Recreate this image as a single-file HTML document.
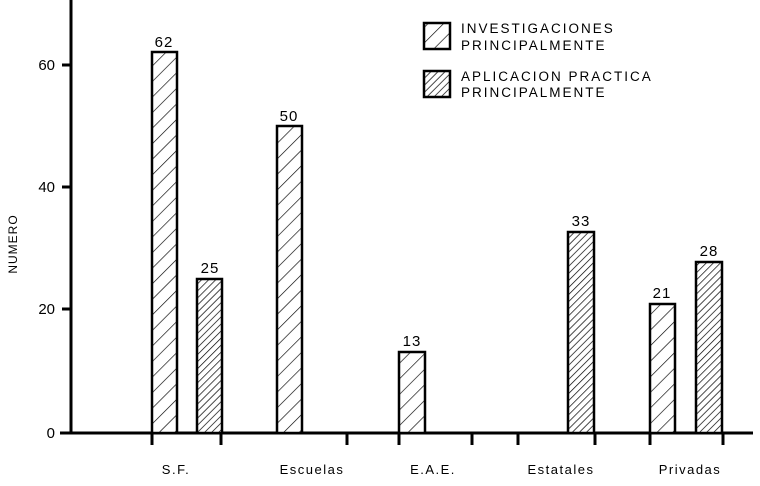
<!DOCTYPE html><html><head><style>body{margin:0;background:#fff}</style></head><body>
<svg width="760" height="481" xmlns="http://www.w3.org/2000/svg" font-family="Liberation Sans, sans-serif">
<defs>
<pattern id="l" width="11" height="11" patternUnits="userSpaceOnUse" patternTransform="rotate(45)"><rect width="11" height="11" fill="#fff"/><line x1="0" y1="0" x2="0" y2="11" stroke="#000" stroke-width="1.3"/></pattern>
<pattern id="d" width="5" height="5" patternUnits="userSpaceOnUse" patternTransform="rotate(45)"><rect width="5" height="5" fill="#fff"/><line x1="0" y1="0" x2="0" y2="5" stroke="#000" stroke-width="1.4"/></pattern>
</defs>
<g stroke="#000" stroke-width="3" fill="none">
<line x1="71" y1="0" x2="71" y2="434"/>
<line x1="60" y1="433" x2="753" y2="433"/>
<line x1="62" y1="65" x2="71" y2="65"/><line x1="62" y1="187" x2="71" y2="187"/><line x1="62" y1="309" x2="71" y2="309"/>
<g stroke-width="3"><line x1="152" y1="433" x2="152" y2="445"/><line x1="221" y1="433" x2="221" y2="445"/><line x1="347" y1="433" x2="347" y2="445"/><line x1="399" y1="433" x2="399" y2="445"/><line x1="472" y1="433" x2="472" y2="445"/><line x1="518" y1="433" x2="518" y2="445"/><line x1="595" y1="433" x2="595" y2="445"/><line x1="650" y1="433" x2="650" y2="445"/><line x1="723" y1="433" x2="723" y2="445"/></g>
</g>
<g stroke="#000" stroke-width="2.5">
<rect x="152" y="52" width="25" height="381" fill="url(#l)"/>
<rect x="197" y="279" width="25" height="154" fill="url(#d)"/>
<rect x="277" y="126" width="25" height="307" fill="url(#l)"/>
<rect x="399" y="352" width="26" height="81" fill="url(#l)"/>
<rect x="568" y="232" width="26" height="201" fill="url(#d)"/>
<rect x="650" y="304" width="25" height="129" fill="url(#l)"/>
<rect x="696" y="262" width="26" height="171" fill="url(#d)"/>
<rect x="424" y="23" width="26" height="26" fill="url(#l)"/>
<rect x="424" y="71" width="26" height="26" fill="url(#d)"/>
</g>
<g font-size="15" text-anchor="middle" letter-spacing="1">
<text x="164" y="47">62</text><text x="210" y="273">25</text><text x="289" y="121">50</text><text x="412" y="346">13</text><text x="581" y="226">33</text><text x="662" y="298">21</text><text x="709" y="256">28</text>
</g>
<g font-size="15" text-anchor="end"><text x="55" y="70">60</text><text x="55" y="192">40</text><text x="55" y="314">20</text><text x="55" y="438">0</text></g>
<text transform="translate(17,244) rotate(-90)" font-size="12" text-anchor="middle" letter-spacing="1">NUMERO</text>
<g font-size="13" text-anchor="middle" letter-spacing="1.5">
<text x="176" y="474">S.F.</text><text x="312" y="474">Escuelas</text><text x="433" y="474">E.A.E.</text><text x="561" y="474">Estatales</text><text x="690" y="474">Privadas</text>
</g>
<g font-size="13.5" letter-spacing="2">
<text x="461" y="33">INVESTIGACIONES</text><text x="461" y="50">PRINCIPALMENTE</text>
<text x="461" y="81">APLICACION PRACTICA</text><text x="461" y="97">PRINCIPALMENTE</text>
</g>
</svg></body></html>
